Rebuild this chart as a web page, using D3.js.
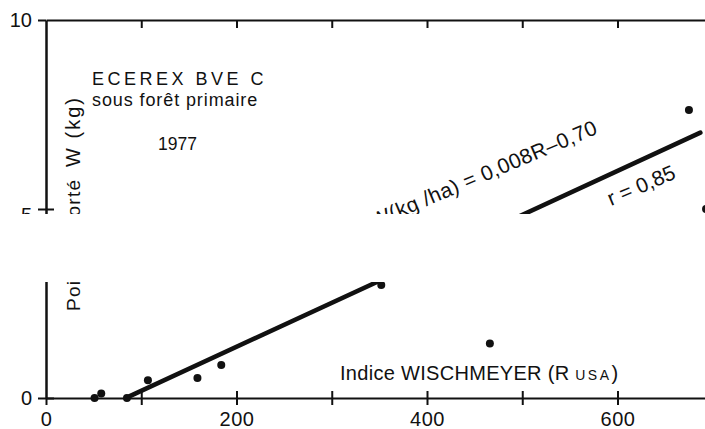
<!DOCTYPE html>
<html>
<head>
<meta charset="utf-8">
<script src="https://cdn.jsdelivr.net/npm/d3@7"></script>
<style>
  body { margin: 0; background: #fff; }
  svg { display: block; }
  text { font-family: "Liberation Sans", Arial, Helvetica, sans-serif; fill: #111; }
</style>
</head>
<body>
<svg id="chart" width="705" height="429"></svg>
<script>
// Rainfall erosivity index R (Wischmeyer) vs exported soil weight W (kg)
const rValues = [51, 58, 85, 107, 159, 184, 352, 466, 675, 693];
const wValues = [0.0, 0.12, 0.0, 0.47, 0.53, 0.87, 2.99, 1.44, 7.62, 5.0];

// fitted regression line, end points
const fitR = [88, 687];
const fitW = [0.05, 7.02];

const xTicks = [0, 100, 200, 300, 400, 500, 600];
const xTickLabels = [0, 200, 400, 600];
const yTicks = [0, 5, 10];
const yCrossTicks = [0, 5];

const W = 705, H = 429;
const svg = d3.select("#chart");
const ink = "#111";

const x = d3.scaleLinear().domain([0, 700]).range([46, 712.75]);
const y = d3.scaleLinear().domain([0, 10]).range([398, 20]);

function styleAxis(g) {
  g.selectAll("path.domain").attr("stroke", ink).attr("stroke-width", 2);
  g.selectAll(".tick line").attr("stroke", ink).attr("stroke-width", 2);
  g.selectAll(".tick text").attr("fill", ink);
}

// top frame line with inward ticks
const topAxis = svg.append("g").attr("transform", `translate(0,${y(10)})`)
  .call(d3.axisBottom(x).tickValues(xTicks.filter(d => d > 0)).tickSize(8).tickSizeOuter(0).tickFormat(""));
styleAxis(topAxis);

// bottom axis: crossing ticks, labels every 200
const bottomAxis = svg.append("g").attr("transform", `translate(0,${y(0)})`)
  .call(d3.axisBottom(x).tickValues(xTicks).tickSizeInner(7).tickSizeOuter(0).tickPadding(7)
    .tickFormat(d => xTickLabels.includes(d) ? d : ""));
styleAxis(bottomAxis);
bottomAxis.selectAll(".tick text").style("font-size", "20px").attr("letter-spacing", 0.5);
const bottomUp = svg.append("g").attr("transform", `translate(0,${y(0)})`)
  .call(d3.axisTop(x).tickValues(xTicks.filter(d => d > 0)).tickSize(7).tickFormat(""));
bottomUp.select("path.domain").remove();
styleAxis(bottomUp);

// left axis
const leftAxis = svg.append("g").attr("transform", `translate(${x(0)},0)`)
  .call(d3.axisLeft(y).tickValues(yTicks).tickSize(8).tickSizeOuter(0).tickPadding(6));
styleAxis(leftAxis);
leftAxis.select("path.domain").attr("stroke-width", 2.5);
leftAxis.selectAll(".tick text").style("font-size", "20px")
  .attr("dy", d => d === 5 ? "0.6em" : "0.32em");
const leftCross = svg.append("g").attr("transform", `translate(${x(0)},0)`)
  .call(d3.axisRight(y).tickValues(yCrossTicks).tickSize(8).tickFormat(""));
leftCross.select("path.domain").remove();
styleAxis(leftCross);

// regression line
const line = d3.line().x(d => x(d[0])).y(d => y(d[1]));
svg.append("path")
  .datum(d3.zip(fitR, fitW))
  .attr("d", line)
  .attr("fill", "none")
  .attr("stroke", ink)
  .attr("stroke-width", 4.5)
  .attr("stroke-linecap", "round");

// observations
svg.append("g").selectAll("circle")
  .data(d3.zip(rValues, wValues))
  .join("circle")
  .attr("cx", d => x(d[0]))
  .attr("cy", d => y(d[1]))
  .attr("r", 4)
  .attr("fill", ink);

// titles and annotations
svg.append("text").attr("x", 92).attr("y", 85)
  .style("font-size", "18px").attr("letter-spacing", 3.5)
  .text("ECEREX BVE C");
svg.append("text").attr("x", 92).attr("y", 106)
  .style("font-size", "18px").attr("letter-spacing", 0.9)
  .text("sous forêt primaire");
svg.append("text").attr("x", 158).attr("y", 150)
  .style("font-size", "17.5px")
  .text("1977");

// y axis title, read bottom to top
svg.append("text")
  .attr("transform", "translate(80,311) rotate(-90)")
  .style("font-size", "19px")
  .attr("textLength", 131).attr("lengthAdjust", "spacing")
  .text("Poids exporté");
svg.append("text")
  .attr("transform", "translate(80,167) rotate(-90)")
  .style("font-size", "20px")
  .attr("textLength", 69).attr("lengthAdjust", "spacing")
  .text("W (kg)");

// x axis title
const xt = svg.append("text").attr("x", 340).attr("y", 380)
  .style("font-size", "20px").attr("letter-spacing", 0.3);
xt.append("tspan").text("Indice  WISCHMEYER (R ");
xt.append("tspan").style("font-size", "14px").attr("letter-spacing", 2.5).text("USA");
xt.append("tspan").text(")");

// equation and correlation along the fitted line
svg.append("text")
  .attr("transform", "translate(599,133) rotate(-23)")
  .attr("text-anchor", "end")
  .style("font-size", "21px").attr("letter-spacing", 0.4)
  .text("W(kg /ha) = 0,008R–0,70");
svg.append("text")
  .attr("transform", "translate(611,206) rotate(-23)")
  .style("font-size", "21px")
  .text("r = 0,85");

// blank strip across the middle of the figure
svg.append("rect")
  .attr("x", 0).attr("y", 214)
  .attr("width", W).attr("height", 68)
  .attr("fill", "#fff");
</script>
</body>
</html>
